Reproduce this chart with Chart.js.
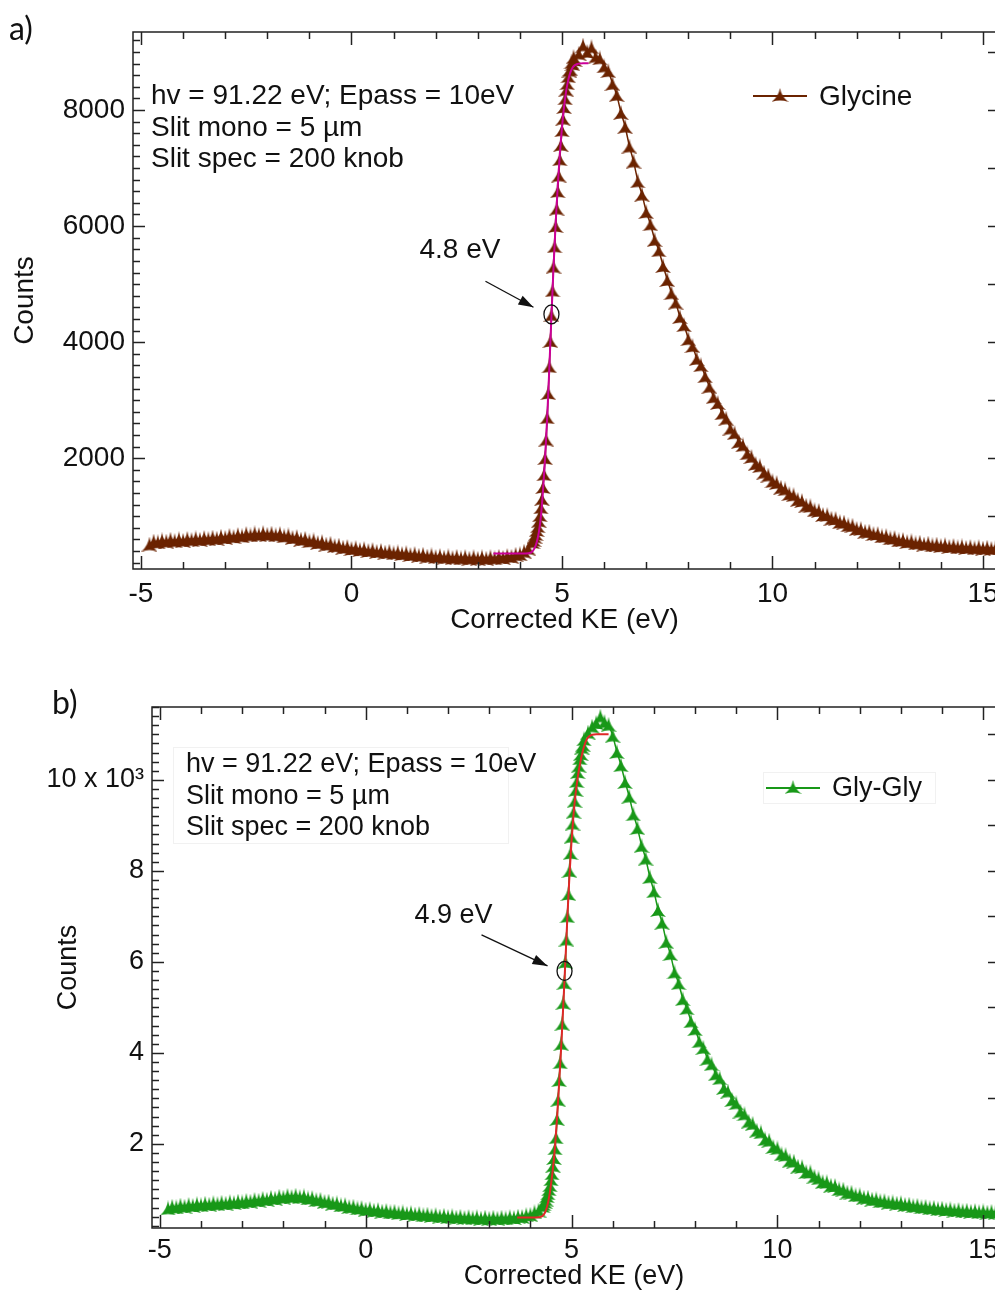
<!DOCTYPE html>
<html>
<head>
<meta charset="utf-8">
<script src="https://cdn.jsdelivr.net/npm/chart.js@4.4.1/dist/chart.umd.min.js"></script>
<style>
  html, body { margin: 0; padding: 0; background: #fff; overflow: hidden; }
  #wrap { position: relative; width: 995px; height: 1290px; overflow: hidden; }
  canvas { position: absolute; left: 0; }
  #chartA { top: 0; }
  #chartB { top: 645px; }
</style>
</head>
<body>
<div id="wrap">
  <canvas id="chartA" width="1020" height="645"></canvas>
  <canvas id="chartB" width="1020" height="660"></canvas>
</div>
<script>
// shared energy grid (eV), denser across the onset edge
const kineticEnergy = [
  -4.8, -4.7, -4.6, -4.5, -4.4, -4.3, -4.2, -4.1, -4.0, -3.9,
  -3.8, -3.7, -3.6, -3.5, -3.4, -3.3, -3.2, -3.1, -3.0, -2.9,
  -2.8, -2.7, -2.6, -2.5, -2.4, -2.3, -2.2, -2.1, -2.0, -1.9,
  -1.8, -1.7, -1.6, -1.5, -1.4, -1.3, -1.2, -1.1, -1.0, -0.9,
  -0.8, -0.7, -0.6, -0.5, -0.4, -0.3, -0.2, -0.1, 0.0, 0.1,
  0.2, 0.3, 0.4, 0.5, 0.6, 0.7, 0.8, 0.9, 1.0, 1.1,
  1.2, 1.3, 1.4, 1.5, 1.6, 1.7, 1.8, 1.9, 2.0, 2.1,
  2.2, 2.3, 2.4, 2.5, 2.6, 2.7, 2.8, 2.9, 3.0, 3.1,
  3.2, 3.3, 3.4, 3.5, 3.6, 3.7, 3.8, 3.9, 4.0, 4.1,
  4.2, 4.3,
  4.325, 4.35, 4.375, 4.4, 4.425, 4.45, 4.475, 4.5, 4.525, 4.55,
  4.575, 4.6, 4.625, 4.65, 4.675, 4.7, 4.725, 4.75, 4.775, 4.8,
  4.825, 4.85, 4.875, 4.9, 4.925, 4.95, 4.975, 5.0, 5.025, 5.05,
  5.075, 5.1, 5.125, 5.15, 5.175, 5.2, 5.225, 5.25, 5.275, 5.3,
  5.4, 5.5, 5.6, 5.7, 5.8, 5.9, 6.0, 6.1, 6.2, 6.3,
  6.4, 6.5, 6.6, 6.7, 6.8, 6.9, 7.0, 7.1, 7.2, 7.3,
  7.4, 7.5, 7.6, 7.7, 7.8, 7.9, 8.0, 8.1, 8.2, 8.3,
  8.4, 8.5, 8.6, 8.7, 8.8, 8.9, 9.0, 9.1, 9.2, 9.3,
  9.4, 9.5, 9.6, 9.7, 9.8, 9.9, 10.0, 10.1, 10.2, 10.3,
  10.4, 10.5, 10.6, 10.7, 10.8, 10.9, 11.0, 11.1, 11.2, 11.3,
  11.4, 11.5, 11.6, 11.7, 11.8, 11.9, 12.0, 12.1, 12.2, 12.3,
  12.4, 12.5, 12.6, 12.7, 12.8, 12.9, 13.0, 13.1, 13.2, 13.3,
  13.4, 13.5, 13.6, 13.7, 13.8, 13.9, 14.0, 14.1, 14.2, 14.3,
  14.4, 14.5, 14.6, 14.7, 14.8, 14.9, 15.0, 15.1, 15.2, 15.3
];

const glycineCounts = [
  520, 572, 558, 590, 571, 603, 578, 610, 584, 617,
  596, 625, 601, 633, 612, 641, 620, 655, 634, 670,
  648, 685, 661, 702, 676, 711, 684, 716, 688, 709,
  679, 700, 660, 676, 635, 648, 604, 618, 575, 590,
  548, 561, 520, 534, 493, 503, 466, 478, 443, 458,
  424, 441, 409, 425, 394, 410, 381, 397, 368, 384,
  355, 371, 340, 357, 327, 345, 314, 333, 304, 322,
  295, 316, 287, 309, 281, 304, 277, 301, 275, 299,
  276, 302, 281, 309, 291, 322, 309, 345, 352, 398,
  450, 560,
  600, 655, 700, 770, 835, 930, 1025, 1160, 1310, 1510,
  1730, 2010, 2330, 2710, 3130, 3590, 4030, 4480, 4900, 5310,
  5660, 6010, 6310, 6610, 6880, 7160, 7410, 7660, 7860, 8060,
  8210, 8360, 8470, 8590, 8690, 8710, 8830, 8800, 8920, 8870,
  8980, 9120, 9010, 9090, 8930, 8900, 8760, 8680, 8460, 8270,
  7960, 7720, 7380, 7120, 6780, 6550, 6250, 6040, 5770, 5590,
  5320, 5080, 4850, 4690, 4440, 4300, 4060, 3940, 3720, 3610,
  3420, 3240, 3060, 2960, 2780, 2690, 2520, 2440, 2290, 2230,
  2090, 2030, 1910, 1870, 1760, 1710, 1610, 1580, 1500, 1470,
  1390, 1370, 1290, 1270, 1190, 1180, 1110, 1100, 1030, 1025,
  965, 960, 905, 900, 850, 845, 790, 785, 740, 742,
  700, 702, 660, 665, 625, 632, 590, 598, 562, 575,
  540, 553, 520, 536, 505, 520, 492, 508, 480, 496,
  470, 487, 462, 478, 455, 472, 450, 466, 445, 462
];

const glyGlyCounts = [
  590, 628, 612, 655, 630, 668, 645, 682, 660, 694,
  672, 705, 683, 716, 696, 728, 708, 742, 722, 758,
  740, 779, 760, 802, 781, 825, 805, 850, 828, 868,
  842, 872, 838, 855, 810, 820, 773, 781, 735, 742,
  696, 702, 657, 664, 622, 630, 590, 601, 563, 576,
  541, 556, 522, 537, 504, 519, 486, 502, 470, 486,
  455, 471, 440, 456, 426, 443, 413, 430, 401, 419,
  390, 409, 381, 401, 373, 395, 367, 391, 364, 389,
  365, 391, 370, 398, 382, 412, 405, 442, 450, 505,
  545, 640,
  680, 735, 785, 860, 920, 1010, 1100, 1230, 1360, 1530,
  1700, 1910, 2150, 2560, 2980, 3410, 3800, 4210, 4650, 5110,
  5550, 6010, 6500, 7010, 7500, 8010, 8400, 8760, 9050, 9310,
  9550, 9790, 9980, 10180, 10320, 10480, 10580, 10720, 10780, 10900,
  11050, 11180, 11260, 11400, 11280, 11220, 10980, 10620, 10330, 9960,
  9640, 9250, 8950, 8560, 8280, 7870, 7560, 7150, 6870, 6450,
  6180, 5780, 5540, 5190, 4990, 4700, 4530, 4260, 4120, 3880,
  3760, 3540, 3450, 3240, 3160, 2970, 2900, 2720, 2660, 2500,
  2450, 2300, 2260, 2110, 2080, 1940, 1910, 1780, 1760, 1640,
  1620, 1510, 1500, 1390, 1385, 1290, 1250, 1170, 1165, 1090,
  1085, 1010, 1005, 940, 938, 878, 878, 826, 828, 785,
  790, 748, 752, 716, 722, 698, 705, 668, 676, 640,
  650, 615, 626, 594, 605, 575, 587, 558, 571, 543,
  557, 530, 544, 518, 533, 508, 524, 500, 516, 494
];

// onset fits
const glycineFitEnergy = [3.37, 3.6, 3.8, 4.0, 4.1, 4.2, 4.25, 4.3, 4.35, 4.4, 4.45, 4.5, 4.55, 4.6, 4.65, 4.7,
  4.75, 4.8, 4.85, 4.9, 4.95, 5.0, 5.05, 5.1, 5.15, 5.2, 5.25, 5.3, 5.35, 5.4, 5.5, 5.63];
const glycineFitCounts = [355, 355, 355, 356, 358, 362, 370, 395, 450, 550, 720, 1000, 1450, 2020, 2720, 3560,
  4450, 5300, 6050, 6700, 7250, 7700, 8060, 8330, 8520, 8650, 8730, 8770, 8790, 8800, 8805, 8805];
const glyGlyFitEnergy = [3.68, 3.9, 4.1, 4.2, 4.25, 4.3, 4.35, 4.4, 4.45, 4.5, 4.55, 4.6, 4.65, 4.7, 4.75,
  4.8, 4.85, 4.9, 4.95, 5.0, 5.05, 5.1, 5.15, 5.2, 5.25, 5.3, 5.35, 5.4, 5.5, 5.6, 5.9];
const glyGlyFitCounts = [380, 380, 382, 386, 395, 420, 480, 600, 800, 1100, 1470, 1950, 2600, 3350, 4150,
  5050, 6000, 7000, 7900, 8650, 9250, 9700, 10050, 10320, 10540, 10720, 10850, 10930, 10990, 11000, 11000];

// onset markers: [energy, counts]
const onsetGlycine = [4.75, 4480];
const onsetGlyGly = [4.83, 5800];

const xTickValues = [-5, 0, 5, 10, 15];
const yTickValuesA = [2000, 4000, 6000, 8000];
const yTickValuesB = [2000, 4000, 6000, 8000, 10000];
const infoLines = ['hv = 91.22 eV; Epass = 10eV', 'Slit mono = 5 µm', 'Slit spec = 200 knob'];

const FONT = "'Liberation Sans', Arial, sans-serif";

// spiky filled triangle marker, like the original plotting program's
function triangleMarker(color, w, h) {
  const c = document.createElement('canvas');
  c.width = w; c.height = h;
  const g = c.getContext('2d');
  g.fillStyle = color;
  g.beginPath();
  g.moveTo(w / 2, 0);
  g.quadraticCurveTo(w * 0.42, h * 0.6, 0, h);
  g.quadraticCurveTo(w / 2, h * 0.8, w, h);
  g.quadraticCurveTo(w * 0.58, h * 0.6, w / 2, 0);
  g.closePath();
  g.fill();
  return c;
}

const panelDecor = {
  id: 'panelDecor',
  afterDatasetsDraw(chart, args, o) {
    const {ctx, chartArea: a, scales: {x, y}} = chart;
    ctx.save();

    // frame + inside ticks
    ctx.strokeStyle = '#222';
    ctx.lineWidth = 1.5;
    ctx.strokeRect(a.left, a.top, a.right - a.left, a.bottom - a.top);
    const seg = (x0, y0, x1, y1) => { ctx.beginPath(); ctx.moveTo(x0, y0); ctx.lineTo(x1, y1); ctx.stroke(); };
    for (let v = Math.ceil(x.min); v <= x.max; v += 1) {
      const px = Math.round(x.getPixelForValue(v)) + 0.5;
      const len = v % 5 === 0 ? 13 : 7;
      seg(px, a.bottom, px, a.bottom - len);
      seg(px, a.top, px, a.top + len);
    }
    for (let v = Math.ceil(y.min / 200) * 200; v <= y.max; v += 200) {
      const py = Math.round(y.getPixelForValue(v)) + 0.5;
      seg(a.left, py, a.left + (v % 2000 === 0 ? 12 : 7), py);
    }
    for (let v = 1000; v <= y.max; v += 1000) {
      const py = Math.round(y.getPixelForValue(v)) + 0.5;
      seg(a.right, py, a.right - 8, py);
    }

    // faint boxes (panel b)
    if (o.boxes) {
      ctx.strokeStyle = '#f1f1f1';
      ctx.lineWidth = 1;
      ctx.strokeRect(a.left + 21.5, a.top + 40.5, 335, 96);
      ctx.strokeRect(a.left + 611.5, a.top + 65.5, 172, 31);
    }

    // info text
    ctx.fillStyle = '#111';
    ctx.font = o.fontSize + 'px ' + FONT;
    ctx.textAlign = 'left';
    ctx.textBaseline = 'alphabetic';
    infoLines.forEach((t, i) => ctx.fillText(t, a.left + o.infoX, a.top + o.infoY + i * 31.5));

    // legend
    const ly = a.top + o.legendY;
    ctx.strokeStyle = o.color;
    ctx.lineWidth = 2;
    seg(a.left + o.legendX, ly, a.left + o.legendX + 54, ly);
    ctx.drawImage(o.marker, a.left + o.legendX + 27 - o.marker.width / 2, ly - o.marker.height / 2 - 1);
    ctx.fillStyle = '#111';
    ctx.textBaseline = 'middle';
    ctx.fillText(o.name, a.left + o.legendX + 66, ly + 1);

    // onset circle, arrow, label
    const cx = x.getPixelForValue(o.onset[0]);
    const cy = y.getPixelForValue(o.onset[1]);
    ctx.strokeStyle = '#111';
    ctx.lineWidth = 1.3;
    ctx.beginPath();
    ctx.ellipse(cx, cy, 7.5, 9.5, 0, 0, Math.PI * 2);
    ctx.stroke();
    const [sx, sy, ex, ey] = [cx + o.arrow[0], cy + o.arrow[1], cx + o.arrow[2], cy + o.arrow[3]];
    seg(sx, sy, ex, ey);
    const ang = Math.atan2(ey - sy, ex - sx);
    ctx.fillStyle = '#111';
    ctx.beginPath();
    ctx.moveTo(ex, ey);
    ctx.lineTo(ex - 15 * Math.cos(ang) + 5 * Math.sin(ang), ey - 15 * Math.sin(ang) - 5 * Math.cos(ang));
    ctx.lineTo(ex - 15 * Math.cos(ang) - 5 * Math.sin(ang), ey - 15 * Math.sin(ang) + 5 * Math.cos(ang));
    ctx.closePath();
    ctx.fill();
    ctx.textBaseline = 'middle';
    ctx.fillText(o.onsetLabel, cx + o.labelOff[0], cy + o.labelOff[1]);

    // panel letter
    ctx.font = '32px Lato, ' + FONT;
    ctx.fillText(o.panel, o.panelPos[0], o.panelPos[1]);
    ctx.restore();
  }
};

function makePanel(id, p) {
  const font = {family: FONT, size: p.fontSize};
  const marker = triangleMarker(p.color, 16, 15);
  p.decor.marker = triangleMarker(p.color, 17, 14);
  return new Chart(document.getElementById(id), {
    type: 'scatter',
    data: {
      datasets: [{
        label: p.name + ' fit',
        data: p.fitX.map((v, i) => ({x: v, y: p.fitY[i]})),
        showLine: true,
        borderColor: p.fitColor,
        borderWidth: 2,
        pointRadius: 0,
        cubicInterpolationMode: 'monotone'
      }, {
        label: p.name,
        data: kineticEnergy.map((v, i) => ({x: v, y: p.counts[i]})),
        showLine: true,
        borderColor: p.color,
        borderWidth: 1.5,
        pointStyle: marker,
        pointRadius: 8
      }]
    },
    options: {
      responsive: false,
      animation: false,
      events: [],
      layout: {padding: {top: p.top, right: 24, left: 0, bottom: 0}},
      plugins: {
        legend: {display: false},
        tooltip: {enabled: false},
        panelDecor: p.decor
      },
      scales: {
        x: {
          type: 'linear',
          min: -5.19,
          max: 15.31,
          grid: {display: false, drawTicks: false},
          border: {display: false},
          afterBuildTicks: s => { s.ticks = xTickValues.map(v => ({value: v})); },
          afterFit: s => { s.height = p.xHeight; },
          ticks: {color: '#111', font, padding: p.xTickPad, maxRotation: 0, autoSkip: false, callback: v => String(v)},
          title: {display: true, text: 'Corrected KE (eV)', color: '#111', font, padding: {top: 0, bottom: p.xTitlePad}}
        },
        y: {
          type: 'linear',
          min: p.yMin,
          max: p.yMax,
          grid: {display: false, drawTicks: false},
          border: {display: false},
          afterBuildTicks: s => { s.ticks = p.yTicks.map(v => ({value: v})); },
          afterFit: s => { s.width = p.left; },
          ticks: {color: '#111', font, padding: 8, autoSkip: false, callback: p.yLabel},
          title: {display: true, text: 'Counts', color: '#111', font, padding: {top: p.yTitlePad, bottom: 0}}
        }
      }
    },
    plugins: [panelDecor]
  });
}

makePanel('chartA', {
  name: 'Glycine', counts: glycineCounts, fitX: glycineFitEnergy, fitY: glycineFitCounts,
  color: '#6b2300', fitColor: '#cc0099', fontSize: 28,
  top: 32, left: 133, xHeight: 76, xTickPad: 8, xTitlePad: 8, yTitlePad: 8,
  yMin: 90, yMax: 9345, yTicks: yTickValuesA, yLabel: v => String(v),
  decor: {
    name: 'Glycine', color: '#6b2300', fontSize: 28, infoX: 18, infoY: 72,
    legendX: 620, legendY: 64, onset: onsetGlycine, onsetLabel: '4.8 eV',
    arrow: [-66, -33, -18, -7], labelOff: [-132, -64], panel: 'a)', panelPos: [9, 30], boxes: false
  }
});

makePanel('chartB', {
  name: 'Gly-Gly', counts: glyGlyCounts, fitX: glyGlyFitEnergy, fitY: glyGlyFitCounts,
  color: '#189818', fitColor: '#e02828', fontSize: 27,
  top: 62, left: 152, xHeight: 77, xTickPad: 6, xTitlePad: 12, yTitlePad: 52,
  yMin: 150, yMax: 11600, yTicks: yTickValuesB,
  yLabel: v => v === 10000 ? '10 x 10³' : String(v / 1000),
  decor: {
    name: 'Gly-Gly', color: '#189818', fontSize: 27, infoX: 34, infoY: 65,
    legendX: 614, legendY: 81, onset: onsetGlyGly, onsetLabel: '4.9 eV',
    arrow: [-83, -36, -17, -5], labelOff: [-150, -55], panel: 'b)', panelPos: [52, 59], boxes: true
  }
});
</script>
</body>
</html>
